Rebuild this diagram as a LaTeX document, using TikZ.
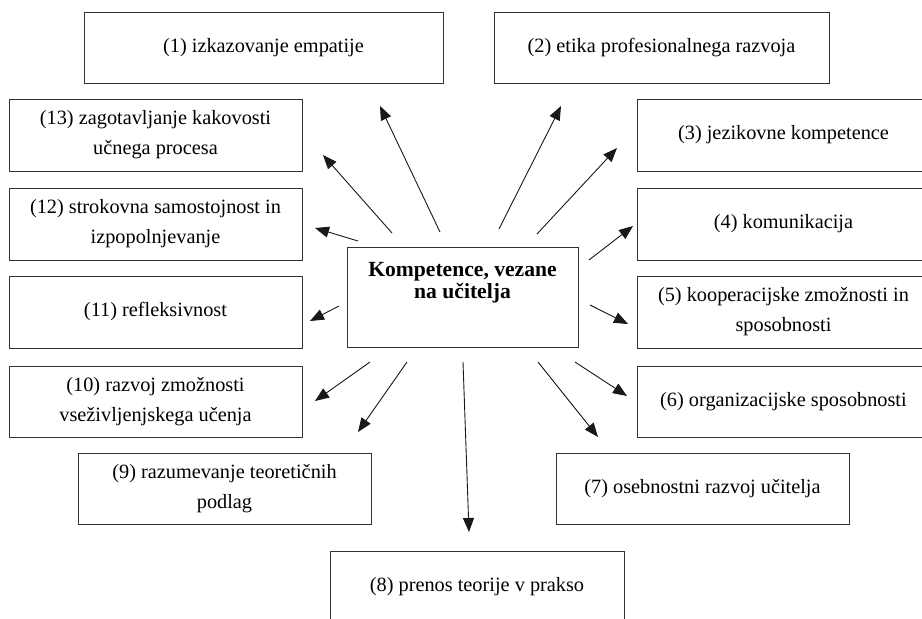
\documentclass[tikz,border=0pt]{standalone}
\usepackage{fontspec}
\setmainfont{Liberation Serif}
\usetikzlibrary{arrows.meta}
\begin{document}
\begin{tikzpicture}[x=1pt,y=-1pt,
  box/.style={draw=black!80, line width=1pt, rectangle, inner sep=0pt, align=center,
    font=\fontsize{20.3}{30}\selectfont},
  ctext/.style={align=center, font=\fontsize{21.6}{22}\selectfont\bfseries},
  arr/.style={draw=black!90, line width=0.9pt, -{Triangle[length=14pt,width=11pt]}}]
\clip (0,0) rectangle (922,619);
\fill[white] (0,0) rectangle (922,619);
% centre
\node[box, minimum width=231pt, minimum height=100pt] (c) at (462.5,297) {};
\node[ctext] (ct) at (462.5,283) {Kompetence, vezane\\na učitelja};
% boxes
\node[box, minimum width=359pt, minimum height=71pt] (b1) at (263.5,47.5) {(1) izkazovanje empatije};
\node[box, minimum width=335pt, minimum height=71pt] (b2) at (661.5,47.5) {(2) etika profesionalnega razvoja};
\node[box, minimum width=293pt, minimum height=72pt] (b3) at (783.5,135) {(3) jezikovne kompetence};
\node[box, minimum width=293pt, minimum height=72pt] (b4) at (783.5,224) {(4) komunikacija};
\node[box, minimum width=293pt, minimum height=72pt] (b5) at (783.5,312) {(5) kooperacijske zmožnosti in\\sposobnosti};
\node[box, minimum width=293pt, minimum height=71pt] (b6) at (783.5,401.5) {(6) organizacijske sposobnosti};
\node[box, minimum width=293pt, minimum height=71pt] (b7) at (702.5,488.5) {(7) osebnostni razvoj učitelja};
\node[box, minimum width=294pt, minimum height=71pt] (b8) at (477,586.5) {(8) prenos teorije v prakso};
\node[box, minimum width=293pt, minimum height=71pt] (b9) at (224.5,488.5) {(9) razumevanje teoretičnih\\podlag};
\node[box, minimum width=293pt, minimum height=71pt] (b10) at (155.5,401.5) {(10) razvoj zmožnosti\\vseživljenjskega učenja};
\node[box, minimum width=293pt, minimum height=72pt] (b11) at (155.5,312) {(11) refleksivnost};
\node[box, minimum width=293pt, minimum height=72pt] (b12) at (155.5,224) {(12) strokovna samostojnost in\\izpopolnjevanje};
\node[box, minimum width=293pt, minimum height=72pt] (b13) at (155.5,135) {(13) zagotavljanje kakovosti\\učnega procesa};
% arrow ends
\coordinate (s1) at (440,232);  \coordinate (t1) at (380,106);
\coordinate (s2) at (499,229);  \coordinate (t2) at (561,106);
\coordinate (s3) at (537,234);  \coordinate (t3) at (617,148);
\coordinate (s4) at (589,260);  \coordinate (t4) at (633,226);
\coordinate (s5) at (590,305);  \coordinate (t5) at (628,324);
\coordinate (s6) at (575,362);  \coordinate (t6) at (627,396);
\coordinate (s7) at (538,362);  \coordinate (t7) at (598,437);
\coordinate (s8) at (463,362);  \coordinate (t8) at (469,532);
\coordinate (s9) at (407,362);  \coordinate (t9) at (358,432);
\coordinate (s10) at (370,362); \coordinate (t10) at (315,401);
\coordinate (s11) at (339,306); \coordinate (t11) at (310,321);
\coordinate (s12) at (358,241); \coordinate (t12) at (315,228);
\coordinate (s13) at (392,233); \coordinate (t13) at (323,155);
\foreach \i in {1,...,13} {\draw[arr] (s\i) -- (t\i);}
\end{tikzpicture}
\end{document}
